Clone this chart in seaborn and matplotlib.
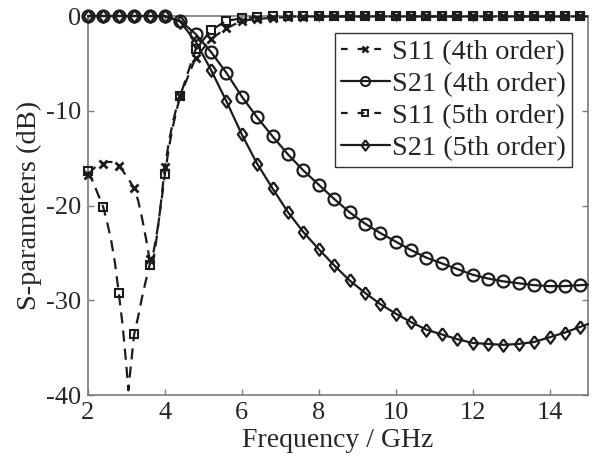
import numpy as np
import pandas as pd
import matplotlib
matplotlib.use("Agg")
import matplotlib.pyplot as plt
from matplotlib.lines import Line2D
import seaborn as sns

# ---------------- data ----------------
freq_marks = [2.0, 2.4, 2.8, 3.2, 3.6, 4.0, 4.4, 4.8, 5.2, 5.6, 6.0, 6.4, 6.8,
              7.2, 7.6, 8.0, 8.4, 8.8, 9.2, 9.6, 10.0, 10.4, 10.8, 11.2, 11.6,
              12.0, 12.4, 12.8, 13.2, 13.6, 14.0, 14.4, 14.8]

s21_4th = [0, 0, 0, 0, 0, -0.05, -0.5, -1.9, -3.8, -6.0, -8.5, -10.7, -12.7,
           -14.6, -16.3, -17.8, -19.3, -20.7, -21.9, -22.9, -23.8, -24.7, -25.5,
           -26.1, -26.7, -27.3, -27.7, -28.0, -28.2, -28.4, -28.5, -28.5, -28.4]

s21_5th = [0, 0, 0, 0, 0, 0, -0.6, -2.7, -5.7, -9.0, -12.5, -15.6, -18.2,
           -20.7, -22.8, -24.6, -26.3, -27.9, -29.2, -30.4, -31.4, -32.3, -33.1,
           -33.6, -34.1, -34.5, -34.6, -34.7, -34.6, -34.4, -33.9, -33.4, -32.8]

s11_4th = [-16.8, -15.6, -15.8, -18.2, -25.6, -15.9, -8.4, -4.4, -2.4, -1.3,
           -0.5, -0.3, -0.2, -0.1, -0.1, -0.05, -0.05, -0.05, -0.05, -0.05,
           -0.05, -0.05, -0.05, -0.05, -0.05, -0.05, -0.05, -0.05, -0.05, -0.05,
           -0.05, -0.05, -0.05]

s11_5th = [-16.4, -20.2, -29.2, -33.6, -26.3, -16.7, -8.4, -3.5, -1.5, -0.5,
           -0.25, -0.1, -0.05, -0.05, -0.05, -0.05, -0.05, -0.05, -0.05, -0.05,
           -0.05, -0.05, -0.05, -0.05, -0.05, -0.05, -0.05, -0.05, -0.05, -0.05,
           -0.05, -0.05, -0.05]

# extra curve points between markers
s11_4th_extra_f = [2.1, 2.2, 2.3, 2.5, 2.6, 2.7, 2.9, 3.0, 3.1, 3.3, 3.4, 3.5,
                   3.65, 3.7, 3.8, 3.9, 4.1, 4.2, 4.3, 15.0]
s11_4th_extra_v = [-16.3, -15.9, -15.7, -15.4, -15.4, -15.5, -16.3, -16.9,
                   -17.5, -19.4, -21.2, -23.3, -26.4, -25.8, -23.0, -19.6,
                   -13.4, -11.3, -9.7, -0.05]

s11_5th_extra_f = [2.1, 2.2, 2.3, 2.5, 2.6, 2.7, 2.9, 3.0, 3.05, 3.1, 3.3, 3.4,
                   3.5, 3.7, 3.8, 3.9, 4.1, 4.2, 4.3, 15.0]
s11_5th_extra_v = [-17.2, -18.2, -19.2, -21.8, -23.6, -26.0, -32.6, -37.0,
                   -39.5, -37.5, -31.8, -29.8, -28.0, -25.0, -22.7, -19.8,
                   -14.0, -11.8, -10.0, -0.05]

s21_4th_end = -28.35
s21_5th_end = -32.5

labels = ["S11 (4th order)", "S21 (4th order)", "S11 (5th order)", "S21 (5th order)"]
x_ticks = [2, 4, 6, 8, 10, 12, 14]
y_ticks = [0, -10, -20, -30, -40]

# ---------------- style ----------------
sns.set_theme(style="ticks")
plt.rcParams["font.family"] = ["Liberation Serif", "DejaVu Serif"]
plt.rcParams["axes.unicode_minus"] = False
plt.rcParams["xtick.direction"] = "in"
plt.rcParams["ytick.direction"] = "in"
plt.rcParams["xtick.top"] = True
plt.rcParams["ytick.right"] = True

INK = "#1c1c1c"
SPINE = "#7a7a7a"
diamond = [(0, 1), (0.75, 0), (0, -1), (-0.75, 0), (0, 1)]

fig = plt.figure(figsize=(5.92, 4.67), dpi=100)
ax = fig.add_axes([0.1486, 0.154, 0.8446, 0.8117])

dash = (0, (5, 3.2))


def draw(line_f, line_v, mark_f, mark_v, ls, marker, ms, mew, z):
    order = np.argsort(line_f)
    lf = np.asarray(line_f)[order]
    lv = np.asarray(line_v)[order]
    sns.lineplot(x=lf, y=lv, ax=ax, color=INK, linewidth=1.6, linestyle=ls,
                 estimator=None, sort=False, clip_on=False, zorder=z)
    sns.lineplot(x=mark_f, y=mark_v, ax=ax, color=INK, linestyle="none",
                 marker=marker, markersize=ms, markerfacecolor="none",
                 markeredgecolor=INK, markeredgewidth=mew,
                 estimator=None, sort=False, clip_on=False, zorder=z + 0.5)


# S21 curves (solid)
draw(freq_marks + [15.0], s21_4th + [s21_4th_end], freq_marks, s21_4th,
     "-", "o", 8.6, 1.6, 3)
draw(freq_marks + [15.0], s21_5th + [s21_5th_end], freq_marks, s21_5th,
     "-", diamond, 9.0, 1.6, 3)
# S11 curves (dashed)
draw(freq_marks + s11_4th_extra_f, s11_4th + s11_4th_extra_v, freq_marks, s11_4th,
     dash, "x", 5.5, 2.0, 4)
draw(freq_marks + s11_5th_extra_f, s11_5th + s11_5th_extra_v, freq_marks, s11_5th,
     dash, "s", 6.0, 1.5, 4)

ax.set_xlim(2, 15)
ax.set_ylim(-40, 0)
ax.set_xticks(x_ticks)
ax.set_yticks(y_ticks)
ax.tick_params(labelsize=19, length=4, width=1.0, color=SPINE, pad=5)
for s in ax.spines.values():
    s.set_color(SPINE)
    s.set_linewidth(1.2)
ax.set_xlabel("Frequency / GHz", fontsize=20, labelpad=3)
ax.set_ylabel("S-parameters (dB)", fontsize=20.5, labelpad=3)

handles = [
    Line2D([], [], color=INK, lw=1.6, linestyle=(0, (3, 4.5)), marker="x",
           markersize=4.5, markeredgewidth=1.8, markerfacecolor="none"),
    Line2D([], [], color=INK, lw=1.6, linestyle="-", marker="o",
           markersize=6.5, markeredgewidth=1.5, markerfacecolor="none"),
    Line2D([], [], color=INK, lw=1.6, linestyle=(0, (3, 4.5)), marker="s",
           markersize=4.5, markeredgewidth=1.4, markerfacecolor="none"),
    Line2D([], [], color=INK, lw=1.6, linestyle="-", marker=diamond,
           markersize=7.5, markeredgewidth=1.5, markerfacecolor="none"),
]
leg = ax.legend(handles, labels, loc="upper right", bbox_to_anchor=(0.968, 0.955),
                fontsize=20.5, frameon=True, fancybox=False, framealpha=1,
                edgecolor="#333333", handlelength=1.7, handletextpad=0.1,
                labelspacing=0.22, borderpad=0.2, borderaxespad=0)
leg.get_frame().set_linewidth(1.0)

fig.savefig("out.png", dpi=100)
